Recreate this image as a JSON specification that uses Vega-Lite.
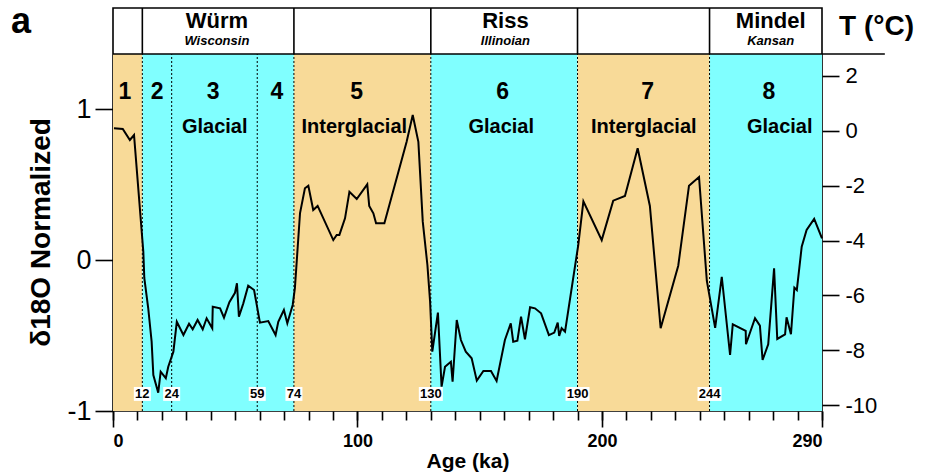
{
  "$schema": "https://vega.github.io/schema/vega-lite/v6.json",
  "width": 709,
  "height": 403,
  "autosize": {"type": "none"},
  "padding": {"left": 113, "top": 8, "right": 109, "bottom": 63},
  "background": "white",
  "config": {"view": {"stroke": "black", "strokeWidth": 1.6}, "font": "Liberation Sans"},
  "resolve": {"axis": {"x": "independent", "y": "independent"}},
  "layer": [
    {
      "data": {"values": [
        {"start": 0, "end": 12, "kind": "Interglacial"},
        {"start": 12, "end": 74, "kind": "Glacial"},
        {"start": 74, "end": 130, "kind": "Interglacial"},
        {"start": 130, "end": 190, "kind": "Glacial"},
        {"start": 190, "end": 244, "kind": "Interglacial"},
        {"start": 244, "end": 290, "kind": "Glacial"}
      ]},
      "mark": {"type": "rect"},
      "encoding": {
        "x": {"field": "start", "type": "quantitative", "scale": {"domain": [0, 290], "nice": false, "zero": false},
          "axis": {"orient": "bottom", "values": [0, 100, 200, 290], "title": "Age (ka)", "titleFontSize": 21, "titleFontWeight": "bold", "titleColor": "black", "titlePadding": 0,
            "labelFontSize": 18, "labelFontWeight": "bold", "labelColor": "black", "labelPadding": 5, "labelExpr": "'' + datum.value",
            "tickSize": 16, "tickWidth": 1.6, "tickColor": "black", "domain": false, "grid": false}},
        "x2": {"field": "end"},
        "y": {"datum": -1, "type": "quantitative", "scale": {"domain": [-1, 1.669], "nice": false, "zero": false}, "axis": null},
        "y2": {"datum": 1.364},
        "color": {"field": "kind", "type": "nominal", "scale": {"domain": ["Interglacial", "Glacial"], "range": ["#F8DA98", "#80FFFF"]}, "legend": null}
      }
    },
    {
      "data": {"values": [{"b": 12}, {"b": 24}, {"b": 59}, {"b": 74}, {"b": 130}, {"b": 190}, {"b": 244}]},
      "mark": {"type": "rule", "color": "black", "strokeWidth": 1, "strokeDash": [2, 2]},
      "encoding": {
        "x": {"field": "b", "type": "quantitative", "axis": null},
        "y": {"datum": -1, "type": "quantitative", "axis": null},
        "y2": {"datum": 1.364}
      }
    },
    {
      "data": {"values": [{"b": 12}, {"b": 74}, {"b": 130}, {"b": 190}, {"b": 244}]},
      "mark": {"type": "rule", "color": "black", "strokeWidth": 1.6},
      "encoding": {
        "x": {"field": "b", "type": "quantitative", "axis": null},
        "y": {"datum": 1.364, "type": "quantitative", "axis": null},
        "y2": {"datum": 1.669}
      }
    },
    {
      "data": {"values": [{"a": 0, "b": 315.7}]},
      "mark": {"type": "rule", "color": "black", "strokeWidth": 1.6},
      "encoding": {
        "x": {"field": "a", "type": "quantitative", "axis": null},
        "x2": {"field": "b"},
        "y": {"datum": 1.364, "type": "quantitative", "axis": null}
      }
    },
    {
      "data": {"values": [
        {"age": 0.4, "d18O": 0.872}, {"age": 4.0, "d18O": 0.868}, {"age": 6.9, "d18O": 0.795}, {"age": 8.6, "d18O": 0.828},
        {"age": 12.4, "d18O": 0.055}, {"age": 12.8, "d18O": -0.119}, {"age": 14.4, "d18O": -0.318}, {"age": 15.8, "d18O": -0.541},
        {"age": 16.5, "d18O": -0.762}, {"age": 18.5, "d18O": -0.879}, {"age": 19.5, "d18O": -0.740}, {"age": 21.6, "d18O": -0.783},
        {"age": 22.6, "d18O": -0.707}, {"age": 24.7, "d18O": -0.607}, {"age": 26.1, "d18O": -0.409}, {"age": 28.8, "d18O": -0.497},
        {"age": 31.1, "d18O": -0.422}, {"age": 32.6, "d18O": -0.459}, {"age": 34.6, "d18O": -0.397}, {"age": 36.7, "d18O": -0.459},
        {"age": 38.3, "d18O": -0.386}, {"age": 40.6, "d18O": -0.452}, {"age": 40.8, "d18O": -0.309}, {"age": 43.8, "d18O": -0.320},
        {"age": 45.4, "d18O": -0.382}, {"age": 47.6, "d18O": -0.280}, {"age": 49.9, "d18O": -0.217}, {"age": 50.7, "d18O": -0.154},
        {"age": 51.5, "d18O": -0.375}, {"age": 53.3, "d18O": -0.287}, {"age": 55.3, "d18O": -0.170}, {"age": 57.7, "d18O": -0.199},
        {"age": 60.1, "d18O": -0.415}, {"age": 63.5, "d18O": -0.404}, {"age": 66.5, "d18O": -0.497}, {"age": 67.6, "d18O": -0.409},
        {"age": 69.9, "d18O": -0.331}, {"age": 71.3, "d18O": -0.419}, {"age": 73.5, "d18O": -0.298}, {"age": 74.4, "d18O": -0.187},
        {"age": 76.5, "d18O": 0.311}, {"age": 78.5, "d18O": 0.475}, {"age": 79.9, "d18O": 0.492}, {"age": 81.9, "d18O": 0.331},
        {"age": 83.7, "d18O": 0.358}, {"age": 90.1, "d18O": 0.132}, {"age": 91.5, "d18O": 0.166}, {"age": 92.6, "d18O": 0.166},
        {"age": 94.9, "d18O": 0.276}, {"age": 96.7, "d18O": 0.452}, {"age": 99.7, "d18O": 0.404}, {"age": 104.0, "d18O": 0.501},
        {"age": 104.8, "d18O": 0.358}, {"age": 106.5, "d18O": 0.309}, {"age": 107.6, "d18O": 0.243}, {"age": 111.0, "d18O": 0.243},
        {"age": 120.1, "d18O": 0.783}, {"age": 122.6, "d18O": 0.960}, {"age": 124.9, "d18O": 0.783}, {"age": 126.7, "d18O": 0.254},
        {"age": 128.6, "d18O": -0.033}, {"age": 129.7, "d18O": -0.276}, {"age": 130.6, "d18O": -0.607}, {"age": 132.9, "d18O": -0.348},
        {"age": 134.4, "d18O": -0.839}, {"age": 135.8, "d18O": -0.707}, {"age": 138.2, "d18O": -0.674}, {"age": 138.9, "d18O": -0.806},
        {"age": 140.6, "d18O": -0.397}, {"age": 142.3, "d18O": -0.530}, {"age": 144.3, "d18O": -0.607}, {"age": 146.7, "d18O": -0.651},
        {"age": 148.8, "d18O": -0.799}, {"age": 151.5, "d18O": -0.735}, {"age": 154.6, "d18O": -0.735}, {"age": 156.9, "d18O": -0.801},
        {"age": 160.3, "d18O": -0.530}, {"age": 162.7, "d18O": -0.419}, {"age": 163.7, "d18O": -0.541}, {"age": 165.4, "d18O": -0.534},
        {"age": 166.9, "d18O": -0.375}, {"age": 168.5, "d18O": -0.525}, {"age": 170.6, "d18O": -0.313}, {"age": 172.6, "d18O": -0.320},
        {"age": 175.1, "d18O": -0.353}, {"age": 178.3, "d18O": -0.497}, {"age": 180.5, "d18O": -0.481}, {"age": 181.9, "d18O": -0.415},
        {"age": 182.5, "d18O": -0.503}, {"age": 183.5, "d18O": -0.452}, {"age": 184.9, "d18O": -0.475}, {"age": 190.3, "d18O": 0.099},
        {"age": 192.4, "d18O": 0.389}, {"age": 199.9, "d18O": 0.132}, {"age": 204.6, "d18O": 0.393}, {"age": 209.4, "d18O": 0.424},
        {"age": 214.6, "d18O": 0.740}, {"age": 219.6, "d18O": 0.358}, {"age": 224.0, "d18O": -0.452}, {"age": 231.2, "d18O": -0.038},
        {"age": 235.6, "d18O": 0.492}, {"age": 239.7, "d18O": 0.550}, {"age": 242.9, "d18O": -0.139}, {"age": 246.3, "d18O": -0.449},
        {"age": 249.0, "d18O": -0.111}, {"age": 252.4, "d18O": -0.629}, {"age": 253.5, "d18O": -0.426}, {"age": 258.8, "d18O": -0.470},
        {"age": 258.9, "d18O": -0.558}, {"age": 262.6, "d18O": -0.386}, {"age": 264.6, "d18O": -0.435}, {"age": 265.7, "d18O": -0.662},
        {"age": 268.0, "d18O": -0.558}, {"age": 270.4, "d18O": -0.055}, {"age": 271.7, "d18O": -0.523}, {"age": 274.9, "d18O": -0.492},
        {"age": 275.5, "d18O": -0.379}, {"age": 277.3, "d18O": -0.492}, {"age": 278.7, "d18O": -0.183}, {"age": 279.7, "d18O": -0.199},
        {"age": 281.7, "d18O": 0.088}, {"age": 283.7, "d18O": 0.199}, {"age": 286.8, "d18O": 0.272}, {"age": 290.0, "d18O": 0.144}
      ]},
      "mark": {"type": "line", "color": "black", "strokeWidth": 2, "strokeJoin": "miter"},
      "encoding": {
        "x": {"field": "age", "type": "quantitative", "axis": null},
        "y": {"field": "d18O", "type": "quantitative",
          "axis": {"orient": "left", "values": [-1, 0, 1], "labelExpr": "'' + datum.value", "labelFontSize": 27, "labelColor": "black", "labelPadding": 4,
            "tickSize": 18, "tickWidth": 1.6, "tickColor": "black", "domain": false, "grid": false,
            "title": "δ18O Normalized", "titleFontSize": 28, "titleFontWeight": "bold", "titleColor": "black", "titleX": -72, "titleY": 224, "titleAlign": "center", "titleBaseline": "middle", "titleAngle": -90}}
      }
    },
    {
      "data": {"values": [{"b": 12, "label": "12"}, {"b": 24, "label": "24"}, {"b": 59, "label": "59"}, {"b": 74, "label": "74"}]},
      "mark": {"type": "point", "shape": "M-1,-0.82H1V0.82H-1Z", "size": 289, "filled": true, "fill": "white", "opacity": 1, "strokeWidth": 0},
      "encoding": {
        "x": {"field": "b", "type": "quantitative", "axis": null},
        "y": {"datum": -0.887, "type": "quantitative", "axis": null}
      }
    },
    {
      "data": {"values": [{"b": 130, "label": "130"}, {"b": 190, "label": "190"}, {"b": 244, "label": "244"}]},
      "mark": {"type": "point", "shape": "M-1,-0.58H1V0.58H-1Z", "size": 576, "filled": true, "fill": "white", "opacity": 1, "strokeWidth": 0},
      "encoding": {
        "x": {"field": "b", "type": "quantitative", "axis": null},
        "y": {"datum": -0.887, "type": "quantitative", "axis": null}
      }
    },
    {
      "data": {"values": [{"b": 12, "label": "12"}, {"b": 24, "label": "24"}, {"b": 59, "label": "59"}, {"b": 74, "label": "74"}, {"b": 130, "label": "130"}, {"b": 190, "label": "190"}, {"b": 244, "label": "244"}]},
      "mark": {"type": "text", "fontSize": 13, "fontWeight": "bold", "color": "black", "baseline": "middle", "align": "center"},
      "encoding": {
        "x": {"field": "b", "type": "quantitative", "axis": null},
        "y": {"datum": -0.887, "type": "quantitative", "axis": null},
        "text": {"field": "label"}
      }
    },
    {
      "data": {"values": [
        {"x": 4.9, "label": "1"}, {"x": 18.1, "label": "2"}, {"x": 41.0, "label": "3"}, {"x": 67.0, "label": "4"},
        {"x": 99.7, "label": "5"}, {"x": 159.4, "label": "6"}, {"x": 218.7, "label": "7"}, {"x": 268.3, "label": "8"}
      ]},
      "mark": {"type": "text", "fontSize": 23, "fontWeight": "bold", "color": "black", "baseline": "middle", "align": "center"},
      "encoding": {
        "x": {"field": "x", "type": "quantitative", "axis": null},
        "y": {"datum": 1.113, "type": "quantitative", "axis": null},
        "text": {"field": "label"}
      }
    },
    {
      "data": {"values": [
        {"x": 41.6, "label": "Glacial"}, {"x": 98.7, "label": "Interglacial"}, {"x": 158.8, "label": "Glacial"},
        {"x": 217.1, "label": "Interglacial"}, {"x": 272.7, "label": "Glacial"}
      ]},
      "mark": {"type": "text", "fontSize": 20, "fontWeight": "bold", "color": "black", "baseline": "middle", "align": "center"},
      "encoding": {
        "x": {"field": "x", "type": "quantitative", "axis": null},
        "y": {"datum": 0.883, "type": "quantitative", "axis": null},
        "text": {"field": "label"}
      }
    },
    {
      "data": {"values": [{"x": 42.5, "label": "Würm"}, {"x": 160.5, "label": "Riss"}, {"x": 269, "label": "Mindel"}]},
      "mark": {"type": "text", "fontSize": 22, "fontWeight": "bold", "color": "black", "baseline": "middle", "align": "center"},
      "encoding": {
        "x": {"field": "x", "type": "quantitative", "axis": null},
        "y": {"datum": 1.585, "type": "quantitative", "axis": null},
        "text": {"field": "label"}
      }
    },
    {
      "data": {"values": [{"x": 42.5, "label": "Wisconsin"}, {"x": 160.5, "label": "Illinoian"}, {"x": 269, "label": "Kansan"}]},
      "mark": {"type": "text", "fontSize": 13, "fontWeight": "bold", "fontStyle": "italic", "color": "black", "baseline": "middle", "align": "center"},
      "encoding": {
        "x": {"field": "x", "type": "quantitative", "axis": null},
        "y": {"datum": 1.450, "type": "quantitative", "axis": null},
        "text": {"field": "label"}
      }
    },
    {
      "data": {"values": [{"panel": "a"}]},
      "mark": {"type": "text", "fontSize": 36, "fontWeight": "bold", "color": "black", "baseline": "alphabetic", "align": "center", "dx": -92, "dy": 25},
      "encoding": {
        "x": {"datum": 0, "type": "quantitative", "axis": null},
        "y": {"datum": 1.669, "type": "quantitative", "axis": null},
        "text": {"field": "panel"}
      }
    },
    {
      "data": {"values": [{"x": 0}]},
      "mark": {"type": "point", "opacity": 0},
      "encoding": {
        "x": {"field": "x", "type": "quantitative",
          "axis": {"orient": "bottom", "values": [0, 10, 20, 30, 40, 50, 60, 70, 80, 90, 100, 110, 120, 130, 140, 150, 160, 170, 180, 190, 200, 210, 220, 230, 240, 250, 260, 270, 280, 290],
            "labels": false, "title": null, "tickSize": 9, "tickWidth": 1.6, "tickColor": "black", "domain": false, "grid": false}},
        "y": {"datum": 0, "type": "quantitative", "axis": null}
      }
    },
    {
      "data": {"values": [{"v": 0}]},
      "mark": {"type": "point", "opacity": 0},
      "encoding": {
        "x": {"datum": 0, "type": "quantitative", "axis": null},
        "y": {"field": "v", "type": "quantitative",
          "axis": {"orient": "right", "values": [1.2199, 0.8563, 0.4927, 0.1291, -0.2345, -0.598, -0.9616],
            "labelExpr": "'' + round((datum.value - 0.8563) / 0.18179)", "labelFontSize": 22, "labelColor": "black", "labelPadding": 6,
            "tickSize": 17, "tickWidth": 1.6, "tickColor": "black", "domain": false, "grid": false,
            "title": "T (°C)", "titleAngle": 0, "titleFontSize": 28, "titleFontWeight": "bold", "titleColor": "black", "titleX": 54, "titleY": 18, "titleAlign": "center", "titleBaseline": "middle"}}
      }
    }
  ]
}
